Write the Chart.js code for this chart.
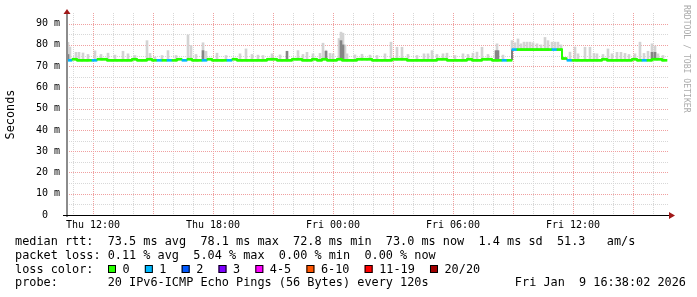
<!DOCTYPE html>
<html lang="en">
<head>
<meta charset="UTF-8">
<title>Smokeping latency</title>
<style>
  html, body { margin: 0; padding: 0; background: #fff; }
  canvas { display: block; }
</style>
</head>
<body>
<canvas id="chart" width="697" height="297"></canvas>
<script src="https://cdn.jsdelivr.net/npm/chart.js"></script>
<script>
// time is hours counted from Thu 00:00, median bins are 15 minutes wide
const binStart = 10.7;
const binHours = 0.25;

const medianRtt = [
  72.75, 73.25, 72.75, 72.75, 72.75, 72.75, 73.25, 73.25, 72.75, 72.75,
  72.75, 72.75, 72.75, 73.25, 72.75, 72.75, 73.25, 72.75, 72.75, 72.75,
  72.75, 72.75, 73.25, 72.75, 73.25, 72.75, 72.75, 72.75, 73.25, 72.75,
  72.75, 72.75, 72.75, 73.25, 72.75, 72.75, 72.75, 72.75, 72.75, 72.75,
  73.25, 73.25, 72.75, 72.75, 72.75, 73.25, 73.25, 72.75, 72.75, 73.25,
  72.75, 73.25, 72.75, 72.75, 73.25, 72.75, 72.75, 72.75, 73.25, 73.25,
  73.25, 72.75, 72.75, 72.75, 72.75, 73.25, 73.25, 73.25, 72.75, 72.75,
  72.75, 72.75, 72.75, 72.75, 73.25, 73.25, 72.75, 72.75, 72.75, 72.75,
  73.25, 72.75, 72.75, 73.25, 73.25, 72.75, 72.75, 72.75, 72.75, 77.8,
  77.8, 77.8, 77.8, 77.8, 77.8, 77.8, 77.8, 77.8, 77.8, 73.6,
  72.75, 72.75, 72.75, 72.75, 72.75, 72.75, 72.75, 73.25, 72.75, 72.75,
  72.75, 72.75, 72.75, 73.25, 72.75, 72.75, 72.75, 73.25, 73.25, 72.75
];

// lost pings out of 20 per bin
const lossPings = [
  1, 0, 0, 0, 0, 1, 0, 0, 0, 0,
  0, 0, 0, 0, 0, 0, 0, 0, 1, 0,
  1, 0, 0, 1, 0, 0, 0, 1, 0, 0,
  0, 0, 1, 0, 0, 0, 0, 0, 0, 0,
  0, 0, 0, 0, 0, 0, 0, 0, 0, 0,
  0, 0, 0, 0, 0, 0, 0, 0, 0, 0,
  0, 0, 0, 0, 0, 0, 0, 0, 0, 0,
  0, 0, 0, 0, 0, 0, 0, 0, 0, 0,
  0, 0, 0, 0, 0, 0, 0, 1, 0, 1,
  0, 0, 0, 0, 0, 0, 0, 1, 0, 0,
  1, 0, 0, 0, 0, 0, 0, 0, 0, 0,
  0, 0, 0, 0, 0, 1, 0, 0, 0, 0
];

// smoke: highest ping around a time
const smokeTimes = [
  10.75, 10.85, 11.15, 11.30, 11.50, 11.75, 12.10, 12.40, 12.75, 13.10,
  13.50, 13.75, 14.10, 14.70, 14.85, 15.10, 15.45, 15.75, 16.15, 16.75,
  16.90, 17.15, 17.50, 17.65, 18.20, 18.65, 19.35, 19.65, 19.95, 20.25,
  20.50, 20.95, 21.35, 22.25, 22.50, 22.70, 23.00, 23.35, 23.50, 23.65,
  23.85, 24.00, 24.30, 24.40, 24.50, 24.60, 24.70, 25.10, 25.45, 25.85,
  26.20, 26.60, 26.90, 27.20, 27.45, 27.75, 28.20, 28.55, 28.75, 28.95,
  29.20, 29.50, 29.70, 30.10, 30.50, 30.75, 31.00, 31.20, 31.45, 31.75,
  32.20, 32.50, 32.95, 33.10, 33.25, 33.40, 33.55, 33.70, 33.85, 34.00,
  34.20, 34.40, 34.60, 34.75, 34.95, 35.10, 35.25, 35.40, 35.85, 36.10,
  36.25, 36.60, 36.85, 37.05, 37.20, 37.50, 37.75, 37.95, 38.20, 38.40,
  38.60, 38.80, 39.10, 39.35, 39.55, 39.75, 39.95, 40.10, 40.25, 40.50
];
const smokeTops = [
  81.2, 79.0, 76.5, 76.5, 76.2, 75.5, 77.2, 75.5, 76.1, 75.2,
  77.0, 75.8, 75.0, 82.0, 76.0, 74.3, 75.0, 77.3, 75.0, 84.7,
  79.7, 75.5, 81.0, 77.0, 76.1, 75.0, 75.8, 78.1, 75.5, 75.2,
  75.0, 75.8, 75.3, 77.3, 75.5, 76.5, 75.8, 76.0, 80.8, 77.5,
  76.0, 75.8, 83.0, 86.0, 85.5, 80.0, 75.8, 75.3, 75.6, 75.2,
  75.0, 75.8, 81.3, 78.9, 78.9, 75.5, 75.0, 75.8, 75.8, 77.3,
  75.5, 75.8, 76.1, 75.0, 75.8, 75.5, 76.1, 76.6, 78.9, 75.5,
  80.5, 75.2, 82.0, 81.0, 82.8, 80.5, 81.3, 81.3, 81.3, 81.0,
  80.5, 80.0, 83.5, 82.0, 81.3, 81.3, 81.3, 80.0, 76.6, 79.0,
  75.8, 78.9, 78.9, 76.0, 75.8, 75.5, 78.1, 75.8, 76.5, 76.5,
  76.0, 75.5, 75.8, 81.3, 76.0, 77.0, 80.5, 79.5, 75.8, 75.0
];

// denser part of the smoke
const darkTimes = [10.75, 17.50, 21.70, 23.65, 24.40, 24.50, 32.15, 32.25, 39.95, 40.10];
const darkTops = [75.5, 77.3, 77.0, 77.0, 82.0, 80.0, 77.3, 77.3, 76.5, 76.5];

const gridHours = [11, 12, 13, 14, 15, 16, 17, 18, 19, 20, 21, 22, 23, 24, 25,
  26, 27, 28, 29, 30, 31, 32, 33, 34, 35, 36, 37, 38, 39, 40];
const labelHours = [12, 18, 24, 30, 36];
const labelTexts = ['Thu 12:00', 'Thu 18:00', 'Fri 00:00', 'Fri 06:00', 'Fri 12:00'];
const yTicks = [0, 5, 10, 15, 20, 25, 30, 35, 40, 45, 50, 55, 60, 65, 70, 75, 80, 85, 90];

const lossLabels = ['0', '1', '2', '3', '4-5', '6-10', '11-19', '20/20'];
const lossColors = ['#26ff00', '#00b8ff', '#0059ff', '#7e00ff', '#ff00ff', '#ff5500', '#ff0000', '#a00000'];

const rttLine = 'median rtt:  73.5 ms avg  78.1 ms max  72.8 ms min  73.0 ms now  1.4 ms sd  51.3   am/s';
const lossLine = 'packet loss: 0.11 % avg  5.04 % max  0.00 % min  0.00 % now';
const probeLine = 'probe:       20 IPv6-ICMP Echo Pings (56 Bytes) every 120s';
const stampText = 'Fri Jan  9 16:38:02 2026';

const MONO = '"DejaVu Sans Mono", monospace';
const LEGEND_FONT = '11.85px ' + MONO;
const MAJOR_GRID = '#f0a0a0';
const MINOR_GRID = '#d8d8d8';

const binTimes = medianRtt.map((_, i) => binStart + binHours * (i + 0.5));

function medianAt(t) {
    let i = Math.floor((t - binStart) / binHours + 1e-6);
    i = Math.max(0, Math.min(medianRtt.length - 1, i));
    return medianRtt[i];
}

// dotted rrdtool style grid, drawn under the data
const rrdGrid = {
    id: 'rrdGrid',
    beforeDatasetsDraw(chart) {
        const { ctx, chartArea: a, scales } = chart;
        ctx.save();
        ctx.lineWidth = 1;
        ctx.setLineDash([1, 1]);
        gridHours.forEach(h => {
            const x = Math.round(scales.x.getPixelForValue(h)) + 0.5;
            ctx.strokeStyle = h % 3 === 0 ? MAJOR_GRID : MINOR_GRID;
            ctx.beginPath();
            ctx.moveTo(x, a.top);
            ctx.lineTo(x, a.bottom);
            ctx.stroke();
        });
        yTicks.forEach(v => {
            if (v === 0) return;
            const y = Math.round(scales.y.getPixelForValue(v)) + 0.5;
            ctx.strokeStyle = v % 10 === 0 ? MAJOR_GRID : MINOR_GRID;
            ctx.beginPath();
            ctx.moveTo(a.left, y);
            ctx.lineTo(a.right, y);
            ctx.stroke();
        });
        ctx.restore();
    }
};

const rrdDecor = {
    id: 'rrdDecor',
    afterDraw(chart) {
        const { ctx, chartArea: a } = chart;
        ctx.save();

        // axes
        ctx.strokeStyle = '#8c8c8c';
        ctx.lineWidth = 2;
        ctx.beginPath();
        ctx.moveTo(a.left, a.bottom + 2);
        ctx.lineTo(a.left, a.top);
        ctx.stroke();

        ctx.strokeStyle = '#000';
        ctx.lineWidth = 1;
        ctx.beginPath();
        ctx.moveTo(a.left - 4, a.bottom + 0.5);
        ctx.lineTo(a.right, a.bottom + 0.5);
        ctx.stroke();

        ctx.fillStyle = '#a01818';
        ctx.beginPath();
        ctx.moveTo(a.left - 3.5, a.top + 1);
        ctx.lineTo(a.left + 3.5, a.top + 1);
        ctx.lineTo(a.left, a.top - 4);
        ctx.fill();
        ctx.beginPath();
        ctx.moveTo(a.right, a.bottom - 3);
        ctx.lineTo(a.right, a.bottom + 4);
        ctx.lineTo(a.right + 6, a.bottom + 0.5);
        ctx.fill();

        // vertical unit label
        ctx.save();
        ctx.translate(11, (a.top + a.bottom) / 2 + 0.5);
        ctx.rotate(-Math.PI / 2);
        ctx.font = LEGEND_FONT;
        ctx.fillStyle = '#000';
        ctx.textAlign = 'center';
        ctx.textBaseline = 'middle';
        ctx.fillText('Seconds', 0, 0);
        ctx.restore();

        // watermark
        ctx.save();
        ctx.translate(686, 5);
        ctx.rotate(Math.PI / 2);
        ctx.font = '8.15px ' + MONO;
        ctx.fillStyle = '#aaaaaa';
        ctx.textAlign = 'left';
        ctx.textBaseline = 'middle';
        ctx.fillText('RRDTOOL / TOBI OETIKER', 0, 0);
        ctx.restore();

        // legend
        ctx.font = LEGEND_FONT;
        ctx.fillStyle = '#000';
        ctx.textAlign = 'left';
        ctx.textBaseline = 'alphabetic';
        ctx.fillText(rttLine, 15, 245);
        ctx.fillText(lossLine, 15, 259);
        ctx.fillText('loss color:', 15, 272.5);
        let bx = 108;
        lossLabels.forEach((lab, i) => {
            ctx.fillStyle = lossColors[i];
            ctx.fillRect(bx, 265, 8, 8);
            ctx.strokeStyle = '#000';
            ctx.lineWidth = 1;
            ctx.strokeRect(bx + 0.5, 265.5, 7, 7);
            ctx.fillStyle = '#000';
            ctx.fillText(lab, bx + 14.5, 272.5);
            bx += 14.5 + ctx.measureText(lab).width + 15.2;
        });
        ctx.fillText(probeLine, 15, 286);
        ctx.textAlign = 'right';
        ctx.fillText(stampText, 686, 286);

        ctx.restore();
    }
};

const medianPoints = binTimes.map((t, i) => ({ x: t, y: medianRtt[i] }));

new Chart(document.getElementById('chart'), {
    type: 'bar',
    data: {
        datasets: [
            {
                type: 'bar',
                data: smokeTimes.map((t, i) => ({ x: t, y: [medianAt(t), smokeTops[i]] })),
                backgroundColor: '#d3d3d3',
                barThickness: 2,
                grouped: false,
                order: 5
            },
            {
                type: 'bar',
                data: darkTimes.map((t, i) => ({ x: t, y: [medianAt(t), darkTops[i]] })),
                backgroundColor: '#858585',
                barThickness: 2,
                grouped: false,
                order: 4
            },
            {
                // black median underneath, it shows where the loss class changes
                type: 'line',
                data: medianPoints,
                borderColor: '#000',
                borderWidth: 1,
                stepped: 'middle',
                pointRadius: 0,
                order: 3
            },
            {
                type: 'bar',
                data: binTimes.map((t, i) => ({ x: t, y: [medianRtt[i] - 0.47, medianRtt[i] + 0.47] })),
                backgroundColor: ctx => lossColors[lossPings[ctx.dataIndex]],
                barThickness: 5,
                grouped: false,
                order: 2
            },
            {
                type: 'line',
                data: medianPoints,
                borderWidth: 2,
                stepped: 'middle',
                pointRadius: 0,
                borderColor: 'rgba(0,0,0,0)',
                segment: {
                    borderColor: s => lossPings[s.p0DataIndex] === lossPings[s.p1DataIndex]
                        ? lossColors[lossPings[s.p0DataIndex]] : 'rgba(0,0,0,0)'
                },
                order: 1
            }
        ]
    },
    options: {
        responsive: false,
        animation: false,
        events: [],
        layout: { padding: { left: 0, right: 28, top: 12, bottom: 0 } },
        plugins: { legend: { display: false }, tooltip: { enabled: false } },
        scales: {
            x: {
                type: 'linear',
                min: 10.7,
                max: 40.8,
                offset: false,
                afterBuildTicks: s => { s.ticks = gridHours.map(v => ({ value: v })); },
                afterFit: s => { s.height = 82; },
                grid: { display: false, drawTicks: false },
                border: { display: false },
                ticks: {
                    autoSkip: false,
                    maxRotation: 0,
                    padding: 4,
                    color: '#000',
                    font: { family: MONO, size: 10 },
                    callback: v => {
                        const k = labelHours.indexOf(v);
                        return k >= 0 ? labelTexts[k] : '';
                    }
                }
            },
            y: {
                type: 'linear',
                min: 0,
                max: 95,
                afterBuildTicks: s => { s.ticks = yTicks.map(v => ({ value: v })); },
                afterFit: s => { s.width = 67; },
                grid: { display: false, drawTicks: false },
                border: { display: false },
                ticks: {
                    padding: 7,
                    color: '#000',
                    font: { family: MONO, size: 10 },
                    callback: v => {
                        if (v % 10 !== 0) return '';
                        return v === 0 ? '0  ' : v + ' m';
                    }
                }
            }
        }
    },
    plugins: [rrdGrid, rrdDecor]
});
</script>
</body>
</html>
